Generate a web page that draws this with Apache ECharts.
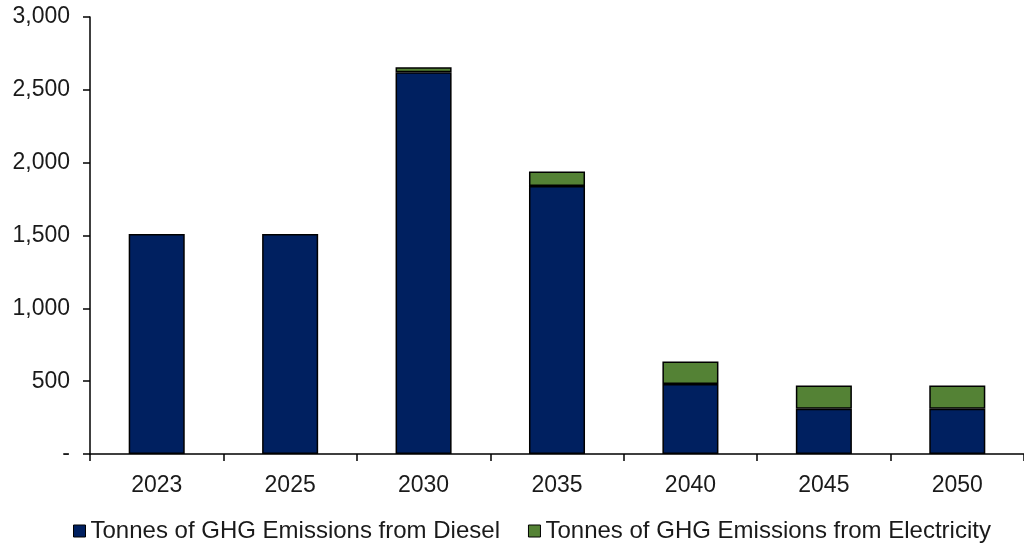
<!DOCTYPE html>
<html>
<head>
<meta charset="utf-8">
<script src="https://cdn.jsdelivr.net/npm/echarts@6/dist/echarts.min.js"></script>
<style>html,body{margin:0;padding:0;background:#fff}#c{width:1024px;height:548px}</style>
</head>
<body>
<div id="c"></div>
<script>
const categories = ['2023','2025','2030','2035','2040','2045','2050'];
const diesel = [1510, 1510, 2620, 1840, 480, 310, 310];
const electricity = [0, 0, 35, 100, 155, 160, 160];
const seriesNames = ['Tonnes of GHG Emissions from Diesel', 'Tonnes of GHG Emissions from Electricity'];

const chart = echarts.init(document.getElementById('c'));
const font = 'Liberation Sans, Arial, sans-serif';
chart.setOption({
  animation: false,
  textStyle: { fontFamily: font },
  grid: { left: 90, right: -7, top: 17, bottom: 94 },
  legend: {
    bottom: 0, left: 68,
    itemWidth: 12, itemHeight: 12, itemGap: 28, itemTextGap: 6,
    textStyle: { fontSize: 24, color: '#1a1a1a', fontFamily: font },
    data: seriesNames.map(n => ({ name: n, icon: 'rect', itemStyle: { borderColor: '#000', borderWidth: 1 } }))
  },
  xAxis: {
    type: 'category', data: categories,
    axisLine: { lineStyle: { color: '#000', width: 1.5 } },
    axisTick: { show: true, length: 7, lineStyle: { color: '#000', width: 1.5 } },
    axisLabel: { fontSize: 23, color: '#1a1a1a', margin: 20, fontFamily: font }
  },
  yAxis: {
    type: 'value', min: 0, max: 3000, interval: 500,
    axisLine: { show: true, lineStyle: { color: '#000', width: 1.5 } },
    axisTick: { show: true, length: 7, lineStyle: { color: '#000', width: 1.5 } },
    splitLine: { show: false },
    axisLabel: {
      fontSize: 23, color: '#1a1a1a', margin: 20, fontFamily: font,
      formatter: v => v === 0 ? '-' : v.toLocaleString('en-US')
    }
  },
  series: [
    { name: seriesNames[0], type: 'bar', stack: 't', data: diesel, barWidth: '42%',
      itemStyle: { color: '#002060', borderColor: '#000', borderWidth: 1.5 } },
    { name: seriesNames[1], type: 'bar', stack: 't', data: electricity.map(v => v === 0 ? null : v), barWidth: '42%',
      itemStyle: { color: '#548235', borderColor: '#000', borderWidth: 1.5 } }
  ]
});
</script>
</body>
</html>
